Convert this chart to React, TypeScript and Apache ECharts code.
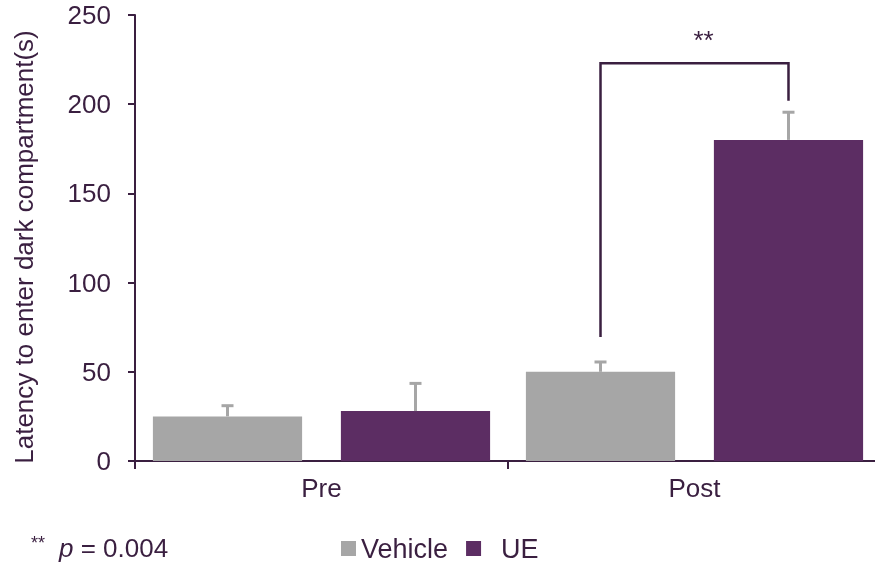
import React, { useEffect, useRef } from "react";
import * as echarts from "echarts";

const categories = ["Pre", "Post"];
const vehicleMeans = [25, 50];
const vehicleErrors = [6, 5.5];
const ueMeans = [28, 180];
const ueErrors = [15.5, 15.5];
const yTicks = { min: 0, max: 250, interval: 50 };
// significance bracket (Post: Vehicle vs UE)
const bracketCategory = 1;
const bracketLeftLow = 69.5;
const bracketTopValue = 223;
const bracketRightLow = 202;
const starValue = 236;
const starText = "**";
const pValueText = "= 0.004";

const GRAY = "#a6a6a6";
const PURPLE = "#5c2d63";
const DARK = "#3a1f40";
const FONT = "'Liberation Sans', Arial, sans-serif";
const BAR_W = 0.4;
const BAR_GAP = 0.26;
const OFFSET = (BAR_W + BAR_W * BAR_GAP) / 2;

export default function App() {
  const ref = useRef<HTMLDivElement>(null);
  useEffect(() => {
    if (!ref.current) return;
    const chart = echarts.init(ref.current, undefined, { renderer: "svg" });
    const errData: any[] = [];
    vehicleMeans.forEach((m, i) => errData.push([i, m, vehicleErrors[i], -1]));
    ueMeans.forEach((m, i) => errData.push([i, m, ueErrors[i], 1]));

    chart.setOption({
      animation: false,
      textStyle: { fontFamily: FONT },
      grid: { left: 135, top: 15, width: 746, height: 446, containLabel: false },
      legend: {
        data: ["Vehicle", "UE"],
        left: 336,
        top: 530,
        icon: "rect",
        itemWidth: 15,
        itemHeight: 15,
        itemGap: 18,
        textStyle: { fontSize: 27, color: DARK, fontFamily: FONT },
        formatter: (n: string) => (n === "UE" ? "  UE" : n),
      },
      xAxis: {
        type: "category",
        data: categories,
        axisLine: { lineStyle: { color: DARK, width: 2 } },
        axisTick: { show: true, length: 8, lineStyle: { color: DARK, width: 2 } },
        axisLabel: { fontSize: 26, color: DARK, margin: 14, fontFamily: FONT },
      },
      yAxis: {
        type: "value",
        min: yTicks.min,
        max: yTicks.max,
        interval: yTicks.interval,
        axisLine: { show: true, lineStyle: { color: DARK, width: 2 } },
        axisTick: { show: true, length: 7, lineStyle: { color: DARK, width: 2 } },
        splitLine: { show: false },
        axisLabel: { fontSize: 26, color: DARK, margin: 24, fontFamily: FONT },
      },
      series: [
        {
          name: "Vehicle",
          type: "bar",
          data: vehicleMeans,
          barWidth: BAR_W * 100 + "%",
          barGap: BAR_GAP * 100 + "%",
          itemStyle: { color: GRAY },
        },
        {
          name: "UE",
          type: "bar",
          data: ueMeans,
          barWidth: BAR_W * 100 + "%",
          barGap: BAR_GAP * 100 + "%",
          itemStyle: { color: PURPLE },
        },
        {
          type: "custom",
          z: 5,
          data: errData,
          renderItem: (params: any, api: any) => {
            const cat = api.value(0);
            const mean = api.value(1);
            const err = api.value(2);
            const side = api.value(3);
            const band = api.size([1, 0])[0];
            const base = api.coord([cat, mean]);
            const top = api.coord([cat, mean + err]);
            const x = base[0] + side * band * OFFSET;
            return {
              type: "group",
              children: [
                { type: "line", shape: { x1: x, y1: base[1], x2: x, y2: top[1] }, style: { stroke: GRAY, lineWidth: 3 } },
                { type: "line", shape: { x1: x - 6, y1: top[1], x2: x + 6, y2: top[1] }, style: { stroke: GRAY, lineWidth: 3 } },
              ],
            };
          },
        },
        {
          type: "custom",
          z: 6,
          data: [[bracketCategory, bracketLeftLow, bracketTopValue, bracketRightLow, starValue]],
          renderItem: (params: any, api: any) => {
            const cat = api.value(0);
            const band = api.size([1, 0])[0];
            const c = api.coord([cat, api.value(2)]);
            const xl = c[0] - band * OFFSET;
            const xr = c[0] + band * OFFSET;
            const yl = api.coord([cat, api.value(1)])[1];
            const yt = c[1];
            const yr = api.coord([cat, api.value(3)])[1];
            const ys = api.coord([cat, api.value(4)])[1];
            return {
              type: "group",
              children: [
                {
                  type: "polyline",
                  shape: { points: [[xl, yl], [xl, yt], [xr, yt], [xr, yr]] },
                  style: { stroke: DARK, lineWidth: 2.5, fill: null },
                },
                {
                  type: "text",
                  x: (xl + xr) / 2 + 9,
                  y: ys,
                  style: { text: starText, align: "center", verticalAlign: "middle", fontSize: 26, fill: DARK, fontFamily: FONT },
                },
              ],
            };
          },
        },
      ],
      graphic: [
        {
          type: "text",
          x: 24,
          y: 247,
          rotation: Math.PI / 2,
          style: {
            text: "Latency to enter dark compartment(s)",
            align: "center",
            verticalAlign: "middle",
            fontSize: 26,
            fill: DARK,
            fontFamily: FONT,
          },
        },
        {
          type: "text",
          x: 31,
          y: 534,
          style: { text: starText, fontSize: 18, fill: DARK, fontFamily: FONT },
        },
        {
          type: "text",
          x: 59,
          y: 548,
          style: {
            text: "{p|p} " + pValueText,
            verticalAlign: "middle",
            fontSize: 26,
            fill: DARK,
            fontFamily: FONT,
            rich: { p: { fontStyle: "italic", fontSize: 26, fill: DARK, fontFamily: FONT } },
          },
        },
      ],
    });
    return () => chart.dispose();
  }, []);
  return <div ref={ref} style={{ position: "fixed", left: 0, top: 0, width: 890, height: 563 }} />;
}
